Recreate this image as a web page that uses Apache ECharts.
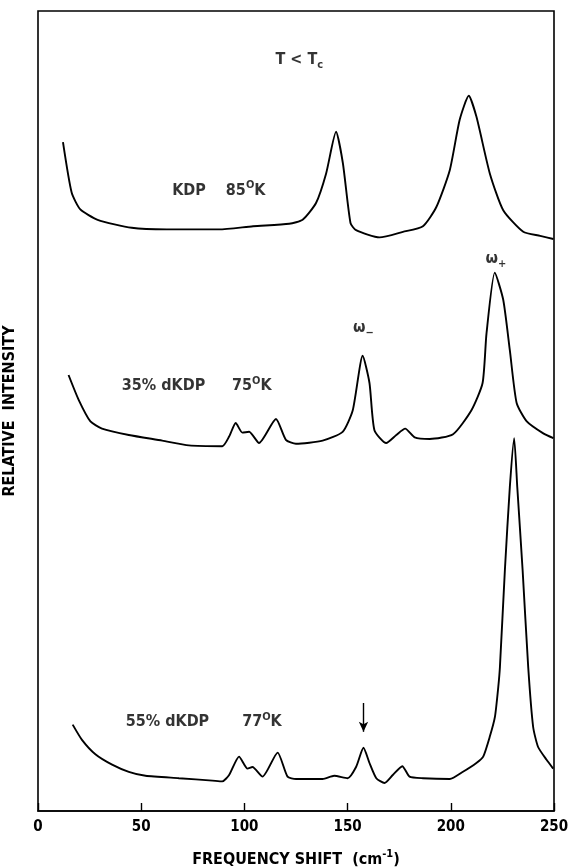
<!DOCTYPE html>
<html>
<head>
<meta charset="utf-8">
<script src="https://cdn.jsdelivr.net/npm/echarts@6/dist/echarts.min.js"></script>
<style>
  html, body { margin: 0; padding: 0; background: #fff; }
  #chart { width: 571px; height: 867px; }
</style>
</head>
<body>
<div id="chart"></div>
<script>
// frequency shift (cm^-1) / relative intensity (arbitrary, offset traces)
const kdpX = [12.1, 16.3, 20.5, 28.9, 45.4, 62.4, 87.7, 104.2, 121.7, 128.2, 134.7, 139.6, 144.4, 147.7, 151.4, 154.1, 165.5, 176.8, 186.5, 193.0, 199.5, 204.3, 208.7, 212.4, 218.9, 225.4, 235.1, 243.3, 249.7]
const kdpY = [83.6, 77.3, 75.2, 73.9, 72.9, 72.7, 72.7, 73.1, 73.4, 73.9, 76.0, 79.7, 84.9, 81.0, 73.5, 72.6, 71.7, 72.4, 73.1, 75.5, 80.1, 86.4, 89.4, 86.8, 79.7, 75.1, 72.4, 71.9, 71.5]

const d35X = [14.8, 19.7, 25.4, 31.0, 44.0, 60.2, 73.1, 89.3, 92.6, 95.8, 99.0, 102.3, 107.1, 115.3, 120.1, 125.0, 137.9, 147.6, 152.5, 157.3, 160.6, 163.0, 168.7, 173.6, 177.9, 182.5, 189.8, 201.1, 210.0, 215.4, 217.3, 221.3, 225.4, 228.6, 231.9, 236.8, 244.8, 249.7]
const d35Y = [54.5, 51.4, 48.7, 47.8, 47.0, 46.3, 45.7, 45.6, 46.8, 48.5, 47.3, 47.4, 46.0, 49.0, 46.4, 45.9, 46.3, 47.4, 50.1, 56.9, 53.5, 47.6, 46.0, 47.0, 47.8, 46.7, 46.5, 47.1, 50.1, 53.5, 59.7, 67.3, 63.9, 57.6, 51.0, 48.7, 47.2, 46.6]

const d55X = [16.8, 21.3, 27.8, 35.9, 44.0, 52.1, 68.3, 84.5, 89.3, 92.6, 97.4, 101.5, 103.9, 108.8, 116.1, 120.9, 125.0, 137.9, 143.5, 150.0, 154.1, 157.7, 160.6, 163.9, 167.9, 171.9, 176.5, 180.0, 186.5, 199.5, 205.9, 212.4, 215.7, 218.9, 221.4, 223.0, 223.8, 226.2, 228.6, 230.7, 232.2, 234.8, 237.5, 239.9, 242.3, 246.4, 249.6]
const d55Y = [10.8, 8.9, 7.1, 5.8, 4.9, 4.4, 4.1, 3.8, 3.7, 4.5, 6.8, 5.3, 5.5, 4.3, 7.3, 4.3, 4.0, 4.0, 4.4, 4.1, 5.5, 7.9, 6.0, 4.1, 3.5, 4.5, 5.6, 4.3, 4.1, 4.0, 4.9, 6.0, 6.8, 9.3, 11.8, 15.5, 18.0, 30.1, 40.5, 46.6, 40.5, 30.1, 18.0, 10.5, 8.0, 6.4, 5.3]

const xTicks = [0, 50, 100, 150, 200, 250]

const FONT = '"Liberation Sans Narrow", "DejaVu Sans Condensed", "Liberation Sans", sans-serif'

const pairs = (xs, ys) => xs.map((x, i) => [x, ys[i]])

const rich = {
  n: { fontSize: 16, lineHeight: 22, fontFamily: FONT, fontWeight: 'bold', color: '#000', verticalAlign: 'middle' },
  sub: { fontSize: 11, lineHeight: 12, fontFamily: FONT, fontWeight: 'bold', color: '#000', verticalAlign: 'bottom' },
  sup: { fontSize: 11, lineHeight: 12, fontFamily: FONT, fontWeight: 'bold', color: '#000', verticalAlign: 'top' }
}

// annotation text, anchored in data coordinates
const notes = [
  { at: [126.6, 93.9], text: '{n|T < T}{sub|c}', pos: 'inside' },
  { at: [65.0, 77.5], text: '{n|KDP    85}{sup|O}{n|K}', pos: 'right' },
  { at: [40.6, 53.1], text: '{n|35% dKDP}', pos: 'right' },
  { at: [94.0, 53.1], text: '{n|75}{sup|O}{n|K}', pos: 'right' },
  { at: [157.7, 60.4], text: '{n|ω}{sub|−}', pos: 'inside' },
  { at: [221.8, 69.0], text: '{n|ω}{sub|+}', pos: 'inside' },
  { at: [42.5, 11.1], text: '{n|55% dKDP}', pos: 'right' },
  { at: [98.9, 11.1], text: '{n|77}{sup|O}{n|K}', pos: 'right' }
]

const arrowX = 157.7
const arrowFrom = 13.5
const arrowTo = 9.9

const lineSeries = (data) => ({
  type: 'line',
  data: data,
  smooth: 0.2,
  showSymbol: false,
  silent: true,
  lineStyle: { color: '#000', width: 1.9 }
})

const chart = echarts.init(document.getElementById('chart'))

const option = {
  animation: false,
  backgroundColor: '#fff',
  grid: {
    left: 38, right: 17, top: 11, bottom: 56,
    outerBoundsMode: 'none',
    containLabel: false,
    show: true, borderColor: '#000', borderWidth: 1.6
  },
  xAxis: {
    type: 'value',
    min: 0, max: 250, interval: 50,
    axisLine: { show: true, lineStyle: { color: '#000', width: 1.6 } },
    axisTick: { show: true, inside: true, length: 8, lineStyle: { color: '#000', width: 1.4 } },
    axisLabel: {
      color: '#000', fontSize: 15, fontFamily: FONT, fontWeight: 'bold', margin: 9,
      formatter: (v) => xTicks.includes(v) ? String(v) : ''
    },
    splitLine: { show: false },
    name: '{n|FREQUENCY SHIFT  (cm}{sup|-1}{n|)}',
    nameLocation: 'middle',
    nameGap: 38,
    nameTextStyle: { rich: rich }
  },
  yAxis: {
    type: 'value',
    min: 0, max: 100,
    axisLine: { show: false },
    axisTick: { show: false },
    axisLabel: { show: false },
    splitLine: { show: false },
    name: 'RELATIVE  INTENSITY',
    nameLocation: 'middle',
    nameRotate: 90,
    nameGap: 20,
    nameTextStyle: { color: '#000', fontSize: 16, fontFamily: FONT, fontWeight: 'bold' }
  },
  series: [
    lineSeries(pairs(kdpX, kdpY)),
    lineSeries(pairs(d35X, d35Y)),
    Object.assign(lineSeries(pairs(d55X, d55Y)), {
      markLine: {
        silent: true,
        symbol: ['none', 'arrow'],
        symbolSize: [7, 10],
        label: { show: false },
        lineStyle: { color: '#000', width: 1.4, type: 'solid' },
        data: [[{ coord: [arrowX, arrowFrom] }, { coord: [arrowX, arrowTo] }]]
      }
    }),
    {
      type: 'scatter',
      silent: true,
      symbolSize: 0,
      data: notes.map(n => ({
        value: n.at,
        label: {
          show: true,
          position: n.pos,
          distance: 0,
          color: '#000',
          formatter: n.text,
          rich: rich
        }
      }))
    }
  ]
}

chart.setOption(option)

window.addEventListener('resize', () => chart.resize())
</script>
</body>
</html>
